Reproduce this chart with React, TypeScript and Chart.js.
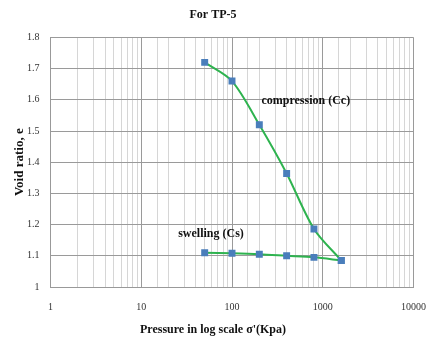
import React, { useEffect, useRef } from "react";
import { Chart, registerables } from "chart.js";

Chart.register(...registerables);

const pressures = [50, 100, 200, 400, 800, 1600];
const compression = [1.72, 1.66, 1.52, 1.364, 1.186, 1.085];
const swelling = [1.11, 1.108, 1.105, 1.1, 1.095, 1.085];
const majorX = [1, 10, 100, 1000, 10000];
const title = "For TP-5";
const xTitle = "Pressure in log scale σ'(Kpa)";
const yTitle = "Void ratio, e";
const notes = [
  { text: "compression (Cc)", x: 211, y: 1.597 },
  { text: "swelling (Cs)", x: 25.5, y: 1.17 },
];

const SERIF = "'Liberation Serif', 'Times New Roman', serif";

export default function App() {
  const ref = useRef<HTMLCanvasElement | null>(null);
  useEffect(() => {
    document.body.style.margin = "0";
    const canvas = ref.current!;
    const notePlugin = {
      id: "notes",
      afterDatasetsDraw(chart: any) {
        const { ctx, scales } = chart;
        ctx.save();
        ctx.font = `bold 12px ${SERIF}`;
        ctx.fillStyle = "#111";
        ctx.textBaseline = "middle";
        ctx.textAlign = "left";
        for (const n of notes) {
          ctx.fillText(n.text, scales.x.getPixelForValue(n.x), scales.y.getPixelForValue(n.y));
        }
        ctx.restore();
      },
    };
    const mk = (data: number[]) => pressures.map((p, i) => ({ x: p, y: data[i] }));
    const ds = (data: number[]) => ({
      data: mk(data),
      borderColor: "#2eb34f",
      backgroundColor: "#4a7ebb",
      pointBackgroundColor: "#4a7ebb",
      pointBorderColor: "#4a7ebb",
      pointStyle: "rect",
      pointRadius: 3.5,
      borderWidth: 2,
      tension: 0.3,
    });
    const chart = new Chart(canvas, {
      type: "line",
      data: { datasets: [ds(compression), ds(swelling)] },
      options: {
        responsive: false,
        animation: false,
        layout: { padding: { left: 0, right: 0, top: 0, bottom: 0 } },
        plugins: {
          legend: { display: false },
          tooltip: { enabled: false },
          title: {
            display: true,
            text: title,
            color: "#111",
            font: { family: SERIF, size: 12, weight: "bold" },
            padding: { top: 8, bottom: 15 },
          },
          subtitle: {
            display: true,
            position: "bottom",
            text: xTitle,
            color: "#111",
            font: { family: SERIF, size: 12, weight: "bold" },
            padding: { top: 9.6, bottom: 4 },
          },
        },
        scales: {
          x: {
            type: "logarithmic",
            min: 1,
            max: 10000,
            border: { color: "#999" },
            grid: {
              color: (c: any) => {
                const v = c.tick && c.tick.value;
                return majorX.includes(v) ? "#9a9a9a" : "#d6d6d6";
              },
              drawTicks: true,
              tickLength: 14,
              tickColor: "rgba(0,0,0,0)",
            },
            ticks: {
              autoSkip: false,
              maxRotation: 0,
              padding: 0,
              color: "#333",
              font: { family: SERIF, size: 10 },
              callback: (v: any) => (majorX.includes(Number(v)) ? String(v) : ""),
            },
          },
          y: {
            min: 1,
            max: 1.8,
            border: { color: "#999" },
            grid: {
              color: "#9a9a9a",
              drawTicks: true,
              tickLength: 11,
              tickColor: "rgba(0,0,0,0)",
            },
            ticks: {
              stepSize: 0.1,
              padding: 0,
              color: "#333",
              font: { family: SERIF, size: 10 },
              callback: (v: any) => String(Number(Number(v).toFixed(1))),
            },
            title: {
              display: true,
              text: yTitle,
              color: "#111",
              font: { family: SERIF, size: 13, weight: "bold" },
              padding: { top: 11.4, bottom: 0 },
            },
          },
        },
      },
      plugins: [notePlugin],
    } as any);
    return () => chart.destroy();
  }, []);
  return (
    <div style={{ width: 426, height: 341, background: "#fff" }}>
      <canvas ref={ref} width={426} height={341} />
    </div>
  );
}
